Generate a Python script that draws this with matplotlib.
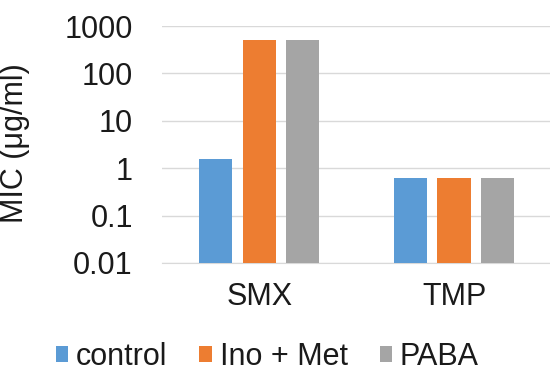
import matplotlib
matplotlib.use("Agg")
import matplotlib.pyplot as plt
import numpy as np

categories = ["SMX", "TMP"]
series_names = ["control", "Ino + Met", "PABA"]
control = [1.56, 0.625]
ino_met = [500, 0.625]
paba = [500, 0.625]
colors = ["#5B9BD5", "#ED7D31", "#A5A5A5"]
ytick_vals = [0.01, 0.1, 1, 10, 100, 1000]
ytick_labels = ["0.01", "0.1", "1", "10", "100", "1000"]

plt.rcParams['font.family'] = ['Liberation Sans', 'DejaVu Sans']
FS = 22
TC = '#1a1a1a'

fig = plt.figure(figsize=(5.5, 3.73), dpi=100)
ax = fig.add_axes([0.2945, 0.295, 0.708, 0.635])

x = np.arange(len(categories))
width = 0.17
offset = 0.223
for i, (vals, name, c) in enumerate(zip([control, ino_met, paba], series_names, colors)):
    ax.bar(x + (i - 1) * offset, vals, width, color=c, label=name, zorder=3)

ax.set_yscale('log')
ax.set_ylim(0.01, 1000)
ax.set_xlim(-0.5, 1.5)
ax.set_yticks(ytick_vals)
ax.set_yticklabels(ytick_labels)
ax.yaxis.set_minor_locator(matplotlib.ticker.NullLocator())
ax.set_xticks(x)
ax.set_xticklabels(categories)
ax.tick_params(axis='both', length=0, labelsize=FS, colors=TC)
ax.tick_params(axis='y', pad=21)
ax.tick_params(axis='x', pad=14)
ax.grid(axis='y', color='#D9D9D9', linewidth=1, zorder=0)
for s in ax.spines.values():
    s.set_visible(False)
ax.spines['bottom'].set_visible(True)
ax.spines['bottom'].set_color('#D9D9D9')
ax.set_ylabel("MIC (μg/ml)", fontsize=FS, color=TC)
ax.yaxis.set_label_coords(-0.339, 0.508)

fig.legend(loc='center', bbox_to_anchor=(0.486, 0.043), ncol=3, frameon=False,
           fontsize=FS, handlelength=0.4, handleheight=0.4, handletextpad=0.26,
           columnspacing=1.05, borderaxespad=0, borderpad=0)
for t in fig.legends[0].get_texts():
    t.set_color(TC)

fig.savefig("out.png", dpi=100)
